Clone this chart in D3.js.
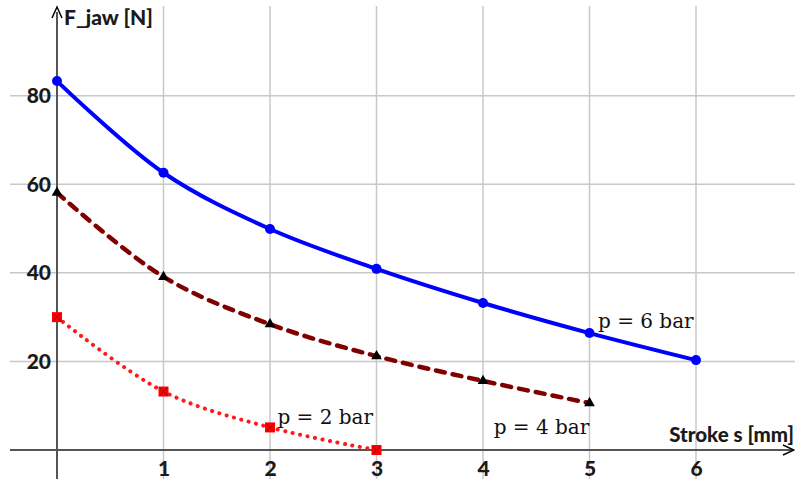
<!DOCTYPE html>
<html>
<head>
<meta charset="utf-8">
<script src="https://cdn.jsdelivr.net/npm/d3@7"></script>
<style>
  body { margin: 0; background: #fff; }
  svg { display: block; }
</style>
</head>
<body>
<div id="chart"></div>
<script>
// Stroke positions and measured jaw force per supply pressure
const strokes = [0, 1, 2, 3, 4, 5, 6];
const force6bar = [83.3, 62.6, 49.9, 40.9, 33.2, 26.4, 20.3];
const force4bar = [58.1, 39.1, 28.4, 21.2, 15.6, 10.6];
const force2bar = [30.0, 13.2, 5.1, 0.0];
const xTicks = [1, 2, 3, 4, 5, 6];
const yTicks = [20, 40, 60, 80];
const seriesLabels = ["p = 6 bar", "p = 4 bar", "p = 2 bar"];

const width = 795, height = 479;

const svg = d3.select("#chart").append("svg")
    .attr("width", width)
    .attr("height", height);

const x = d3.scaleLinear().domain([0, 6]).range([57, 696]);
const y = d3.scaleLinear().domain([0, 80]).range([450, 95.7]);

// Grid
const grid = svg.append("g");
grid.selectAll(".vgrid")
    .data(xTicks.concat([7]))
    .join("line")
    .attr("x1", d => x(d)).attr("x2", d => x(d))
    .attr("y1", 6).attr("y2", height)
    .attr("stroke", "#c8c8c8")
    .attr("stroke-width", 1.5);
grid.selectAll(".hgrid")
    .data(yTicks)
    .join("line")
    .attr("x1", 10).attr("x2", width)
    .attr("y1", d => y(d)).attr("y2", d => y(d))
    .attr("stroke", "#c8c8c8")
    .attr("stroke-width", 1.5);

// Axes lines
svg.append("line")
    .attr("x1", 10).attr("x2", width - 2)
    .attr("y1", y(0)).attr("y2", y(0))
    .attr("stroke", "#555").attr("stroke-width", 2);
svg.append("line")
    .attr("x1", x(0)).attr("x2", x(0))
    .attr("y1", 12).attr("y2", height)
    .attr("stroke", "#555").attr("stroke-width", 2);
// arrow heads
svg.append("path")
    .attr("d", `M${x(0) - 5},${18} L${x(0)},${7} L${x(0) + 5},${18}`)
    .attr("fill", "none").attr("stroke", "#000").attr("stroke-width", 1.5);
svg.append("path")
    .attr("d", `M${width - 12},${y(0) - 5} L${width - 1},${y(0)} L${width - 12},${y(0) + 5}`)
    .attr("fill", "none").attr("stroke", "#000").attr("stroke-width", 1.5);

// Tick labels
const tickFont = "Lato, 'Open Sans', sans-serif";
svg.append("g")
    .attr("transform", `translate(0,${y(0)})`)
    .call(d3.axisBottom(x).tickValues(xTicks).tickFormat(d3.format("d")).tickSize(0).tickPadding(11))
    .call(g => g.select(".domain").remove())
    .selectAll("text")
    .attr("font-family", tickFont)
    .attr("font-weight", 900)
    .attr("font-size", 21)
    .attr("fill", "#1a1a1a");

svg.append("g")
    .attr("transform", `translate(${x(0)},0)`)
    .call(d3.axisLeft(y).tickValues(yTicks).tickFormat(d3.format("d")).tickSize(0).tickPadding(6))
    .call(g => g.select(".domain").remove())
    .selectAll("text")
    .attr("font-family", tickFont)
    .attr("font-weight", 900)
    .attr("font-size", 21)
    .attr("fill", "#1a1a1a");

// Axis titles
svg.append("text")
    .attr("x", 64).attr("y", 25)
    .attr("font-family", tickFont)
    .attr("font-weight", 900)
    .attr("font-size", 21)
    .attr("fill", "#1a1a1a")
    .text("F_jaw [N]");
svg.append("text")
    .attr("x", width - 1).attr("y", 442)
    .attr("text-anchor", "end")
    .attr("font-family", tickFont)
    .attr("font-weight", 900)
    .attr("font-size", 20.5)
    .attr("fill", "#1a1a1a")
    .text("Stroke s [mm]");

// Curves
const line = d3.line()
    .x(d => x(d[0]))
    .y(d => y(d[1]))
    .curve(d3.curveCatmullRom.alpha(0.5));

const s6 = force6bar.map((v, i) => [strokes[i], v]);
const s4 = force4bar.map((v, i) => [strokes[i], v]);
const s2 = force2bar.map((v, i) => [strokes[i], v]);

svg.append("path").datum(s2)
    .attr("d", line)
    .attr("fill", "none")
    .attr("stroke", "#ff1a1a")
    .attr("stroke-width", 4)
    .attr("stroke-linecap", "round")
    .attr("stroke-dasharray", "0.1 7.5");

svg.append("path").datum(s4)
    .attr("d", line)
    .attr("fill", "none")
    .attr("stroke", "#800000")
    .attr("stroke-width", 4.5)
    .attr("stroke-linecap", "round")
    .attr("stroke-dasharray", "9 8");

svg.append("path").datum(s6)
    .attr("d", line)
    .attr("fill", "none")
    .attr("stroke", "#0000ff")
    .attr("stroke-width", 4);

// Markers
svg.selectAll(".m6")
    .data(s6)
    .join("circle")
    .attr("cx", d => x(d[0])).attr("cy", d => y(d[1]))
    .attr("r", 5)
    .attr("fill", "#0000ff");

const tri = d3.symbol().type(d3.symbolTriangle).size(50);
svg.selectAll(".m4")
    .data(s4)
    .join("path")
    .attr("transform", d => `translate(${x(d[0])},${y(d[1])})`)
    .attr("d", tri)
    .attr("fill", "#000");

const sq = svg.selectAll(".m2")
    .data(s2)
    .join("g")
    .attr("transform", d => `translate(${x(d[0])},${y(d[1])})`);
sq.append("rect")
    .attr("x", -5).attr("y", -5).attr("width", 10).attr("height", 10)
    .attr("fill", "#ff0000");
sq.append("path")
    .attr("d", "M-4,-4L4,4M-4,4L4,-4")
    .attr("stroke", "#b00000").attr("stroke-width", 1);

// Series labels
const labelFont = "'DejaVu Serif', 'Liberation Serif', serif";
const labelPos = [[5.08, 27.5], [4.1, 3.7], [2.07, 5.9]];
svg.selectAll(".lbl")
    .data(seriesLabels)
    .join("text")
    .attr("x", (d, i) => x(labelPos[i][0]))
    .attr("y", (d, i) => y(labelPos[i][1]))
    .attr("font-family", labelFont)
    .attr("font-size", 20)
    .attr("fill", "#111")
    .text(d => d);
</script>
</body>
</html>
